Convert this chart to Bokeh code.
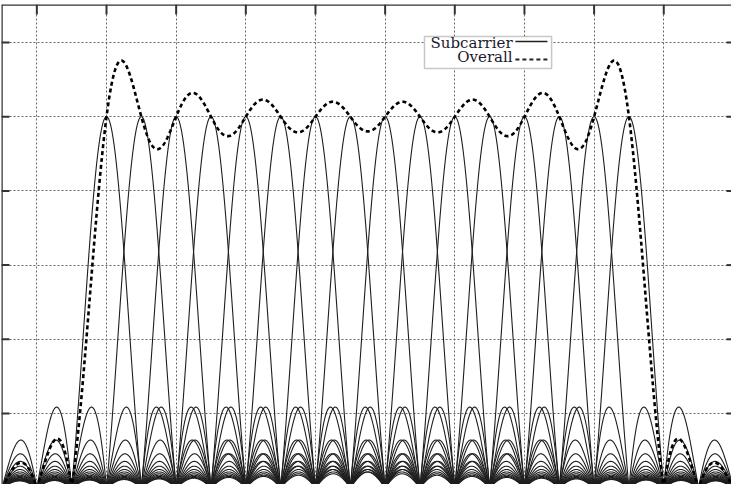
import numpy as np
from bokeh.plotting import figure
from bokeh.models import Range1d, FixedTicker, BoxAnnotation, Label, Arrow, Span
from bokeh.embed import file_html
from bokeh.resources import INLINE

# ---- data ----
subcarriers = [0, 1, 2, 3, 4, 5, 6, 7, 8, 9, 10, 11, 12, 13, 14, 15]   # subcarrier centre frequencies (spacing units)
x_ticks = [-2, 0, 2, 4, 6, 8, 10, 12, 14, 16]
y_ticks = [0.2, 0.4, 0.6, 0.8, 1.0, 1.2]
legend_labels = ["Subcarrier", "Overall"]

x_lo, x_hi = -3.015, 17.945
y_lo, y_hi = 0.0086, 1.3024

W, H = 731, 484
border_l, border_t = 1, 4
px_x = (W - border_l) / (x_hi - x_lo)   # pixels per x unit
px_y = (H - border_t) / (y_hi - y_lo)   # pixels per y unit

f = np.linspace(x_lo, x_hi, 5000)
carriers = [np.sinc(f - k) for k in subcarriers]
overall = np.abs(np.sum(carriers, axis=0))

p = figure(width=W, height=H, output_backend="svg", toolbar_location=None,
           x_range=Range1d(x_lo, x_hi), y_range=Range1d(y_lo, y_hi),
           min_border_left=border_l, min_border_top=border_t,
           min_border_right=0, min_border_bottom=0)
p.outline_line_color = None
p.background_fill_color = "white"
p.border_fill_color = "white"
p.xaxis.visible = False
p.yaxis.visible = False

p.xgrid.ticker = FixedTicker(ticks=x_ticks)
p.ygrid.ticker = FixedTicker(ticks=y_ticks)
for g in (p.xgrid, p.ygrid):
    g.grid_line_color = "#666666"
    g.grid_line_dash = "2 2"
    g.grid_line_width = 1

for c in carriers:
    p.line(f, np.abs(c), line_color="#1e1e1e", line_width=1.1)

p.line(f, overall, line_color="black", line_width=2.6, line_dash="4 3")

# ---- frame border (top / left) and inward ticks ----
p.add_layout(Span(location=y_hi, dimension="width", line_color="#333333", line_width=2.5))
p.add_layout(Span(location=x_lo, dimension="height", line_color="#333333", line_width=2.5))
nx, ny = len(x_ticks), len(y_ticks)
p.segment(x0=x_ticks, y0=[y_hi] * nx, x1=x_ticks, y1=[y_hi - 10 / px_y] * nx,
          line_color="#333333", line_width=2)
p.segment(x0=[x_lo] * ny, y0=y_ticks, x1=[x_lo + 8 / px_x] * ny, y1=y_ticks,
          line_color="#333333", line_width=2)
p.segment(x0=[x_hi] * ny, y0=y_ticks, x1=[x_hi - 5 / px_x] * ny, y1=y_ticks,
          line_color="#333333", line_width=2)

# ---- legend (text left, sample right) ----
p.add_layout(BoxAnnotation(left=9.13, right=12.78, top=1.216, bottom=1.130,
                           fill_color="white", fill_alpha=1.0,
                           line_color="#444444", line_width=1.5))
p.add_layout(Label(x=11.66, y=1.199, text=legend_labels[0], text_align="right",
                   text_baseline="middle", text_font="DejaVu Serif",
                   text_font_size="15px", text_color="#1a1a2a"))
p.add_layout(Label(x=11.66, y=1.160, text=legend_labels[1], text_align="right",
                   text_baseline="middle", text_font="DejaVu Serif",
                   text_font_size="15px", text_color="#1a1a2a"))
p.add_layout(Arrow(end=None, x_start=11.74, y_start=1.2027, x_end=12.66, y_end=1.2027,
                   line_color="#222222", line_width=1.5))
p.add_layout(Arrow(end=None, x_start=11.74, y_start=1.1542, x_end=12.66, y_end=1.1542,
                   line_color="#222222", line_width=2.2, line_dash="4 3"))

open("out.html", "w").write(file_html(p, INLINE))
